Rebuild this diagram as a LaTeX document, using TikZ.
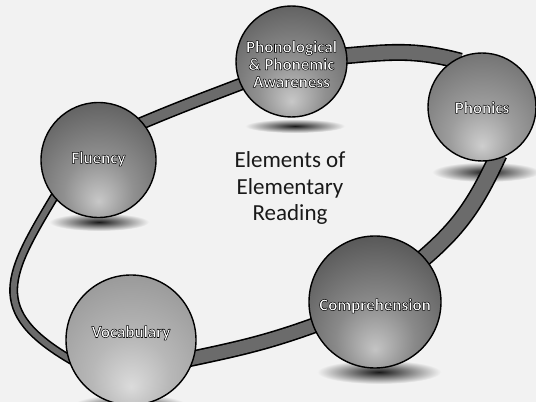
\documentclass[tikz,border=0pt]{standalone}
\usepackage{fontspec}
\setmainfont{Carlito}
\pgfdeclarelayer{bglayer}
\pgfdeclarelayer{shadowlayer}
\pgfdeclarelayer{ringlayer}
\pgfsetlayers{bglayer,shadowlayer,ringlayer,main}
\colorlet{bgcol}{black!5}
\colorlet{glassbase}{black!60}
\pgfdeclareradialshading[glassbase]{glass}{\pgfpoint{0bp}{-18bp}}{%
 color(0bp)=(glassbase!35!white);
 color(15bp)=(glassbase!70!white);
 color(35bp)=(glassbase);
 color(52bp)=(glassbase!75!black);
 color(70bp)=(glassbase!55!black)}
\newcommand\outl[1]{\special{pdf:literal direct 2 Tr 0.5 w 1 j 0 0 0 RG}#1\special{pdf:literal direct 0 Tr}}
\newcommand\lbl[2]{\raisebox{#1}[\height][\depth]{\outl{\begin{tabular}{@{}c@{}}#2\end{tabular}}}}
\tikzset{
 sphere/.style={circle, draw=black, line width=1.4pt, shade, shading=glass,
   inner sep=0pt, minimum size=#1, text=white, align=center,
   font=\bfseries\fontsize{17}{17.5}\selectfont},
 glass base/.code={\colorlet{glassbase}{#1}},
 ring/.style={draw=black, line width=1.6pt, double=black!58, double distance=#1,
   shorten <=-6pt, shorten >=-6pt},
 groundshadow/.style={inner color=black!90, outer color=bgcol},
 title/.style={align=center, text=black!90, font=\fontsize{23}{26.5}\selectfont}
}
\begin{document}
\begin{tikzpicture}[x=1pt,y=1pt]
\useasboundingbox (0,0) rectangle (536,402);
\begin{pgfonlayer}{bglayer}
\fill[bgcol] (0,0) rectangle (536,402);
\end{pgfonlayer}

\node[title] (ttl) at (290,214) {Elements of\\Elementary\\Reading};

\node[sphere=111pt, glass base=black!62] (pa) at (291.5,340.5)
  {\lbl{-5pt}{Phonological\\\& Phonemic\\Awareness}};
\node[sphere=108pt, glass base=black!55] (phx) at (482,295) {\lbl{-3pt}{Phonics}};
\node[sphere=115pt, glass base=black!62] (flu) at (98.5,242) {\lbl{0pt}{Fluency}};
\node[sphere=132pt, glass base=black!66] (comp) at (375,100) {\lbl{-5pt}{Comprehension}};
\node[sphere=130pt, glass base=black!40] (voc) at (131,62) {\lbl{6pt}{Vocabulary}};

\begin{pgfonlayer}{shadowlayer}
\shade[groundshadow] (295,276) ellipse (50 and 7);
\shade[groundshadow] (486,230) ellipse (54 and 10);
\shade[groundshadow] (99,180) ellipse (50 and 9);
\shade[groundshadow] (379,30) ellipse (62 and 12);
\shade[groundshadow] (130,-4) ellipse (58 and 12);
\end{pgfonlayer}

\begin{pgfonlayer}{ringlayer}
\draw[ring=9.8pt] (flu.40) to[out=23,in=201] (pa.204);
\draw[ring=13.8pt] (pa.6) to[out=5,in=165] (phx.120);
\draw[ring=14.8pt] (phx.285) to[out=245,in=40] (comp.42);
\draw[ring=12.8pt] (comp.201) to[out=200,in=12] (voc.344);
\draw[ring=5.8pt] (voc.196) .. controls +(150:95) and +(239:90) .. (flu.220);
\end{pgfonlayer}
\end{tikzpicture}
\end{document}
